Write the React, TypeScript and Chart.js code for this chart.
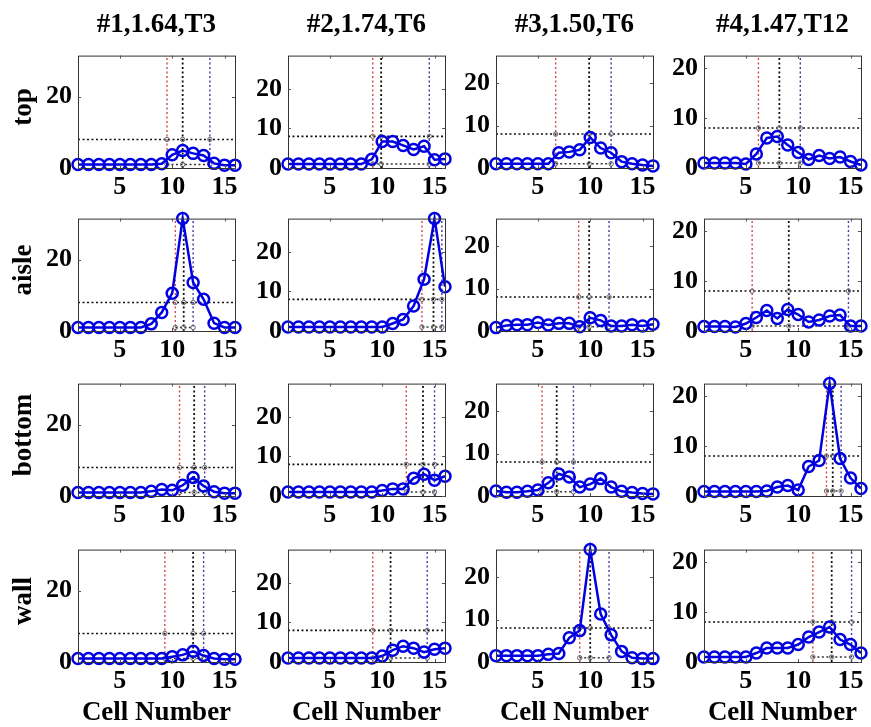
import React, { useEffect, useRef } from "react";
import { Chart, registerables } from "chart.js";
Chart.register(...registerables);

// ---------- data ----------
const cells = [1, 2, 3, 4, 5, 6, 7, 8, 9, 10, 11, 12, 13, 14, 15, 16];
const rowNames = ["top", "aisle", "bottom", "wall"];
const colTitles = ["#1,1.64,T3", "#2,1.74,T6", "#3,1.50,T6", "#4,1.47,T12"];
const colYMax = [31.5, 28.4, 26.5, 22.5];
const colYTicks = [[0, 20], [0, 10, 20], [0, 10, 20], [0, 10, 20]];
const xTicks = [5, 10, 15];
const xLabel = "Cell Number";
const thresholdLevel = 8;
const baseLevel = 1;

const top1 = [1, 1, 1, 1, 1, 1, 1, 1, 1.2, 3.7, 4.9, 4.1, 3.5, 1.3, 0.8, 0.8];
const top2 = [1, 1, 1, 1, 1, 1, 1, 1, 2.2, 6.7, 6.7, 5.7, 4.7, 5.5, 2.1, 2.3];
const top3 = [1, 1, 1, 1, 1, 1, 3.6, 3.8, 4.3, 7.2, 4.7, 3.6, 1.5, 1, 0.7, 0.5];
const top4 = [1, 1, 1, 1, 0.8, 2.8, 6, 6.3, 4.6, 3.1, 1.7, 2.5, 1.9, 2.2, 1.3, 0.6];

const aisle1 = [1, 1, 1, 1, 1, 1, 1, 2, 5.2, 10.6, 31.5, 13.6, 8.9, 2.2, 1, 1];
const aisle2 = [1, 1, 1, 1, 1, 1, 1, 1, 1, 1, 1.9, 2.9, 6.3, 13.1, 28.4, 11.2];
const aisle3 = [0.8, 1.3, 1.5, 1.5, 2, 1.4, 1.8, 1.8, 1, 3.1, 2.5, 1.2, 1.2, 1.5, 1.2, 1.6];
const aisle4 = [0.9, 0.9, 0.9, 0.8, 1.5, 2.7, 4.1, 2.5, 4.3, 3.3, 1.8, 2.2, 3, 3.2, 1, 1];

const bottom1 = [1, 1, 1, 1, 1, 1, 1, 1.3, 1.8, 1.6, 3, 5.2, 2.8, 1.2, 0.8, 0.8];
const bottom2 = [1, 1, 1, 1, 1, 1, 1, 1, 1, 1.4, 1.8, 1.8, 4.5, 5.5, 4, 5];
const bottom3 = [1.2, 0.9, 0.9, 1.1, 1.4, 3.1, 5.2, 4.5, 2.1, 2.8, 4.1, 2.1, 1.1, 0.8, 0.6, 0.5];
const bottom4 = [0.9, 0.9, 0.9, 0.9, 0.9, 0.9, 1, 1.8, 2.1, 1.2, 5.9, 7.1, 22.5, 7.5, 3.6, 1.5];

const wall1 = [1, 1, 1, 1, 1, 1, 1, 1, 1, 1.5, 2, 3, 1.8, 1, 0.8, 0.8];
const wall2 = [1, 1, 1, 1, 1, 1, 1, 1, 1, 1.5, 3, 4, 3.5, 2.5, 3.2, 3.5];
const wall3 = [1.5, 1.5, 1.5, 1.5, 1.5, 1.8, 2, 5.7, 7.4, 26.5, 11.3, 6.4, 2.5, 1, 0.8, 0.8];
const wall4 = [1, 1, 1, 1, 1, 1.8, 2.8, 2.8, 2.8, 3.5, 5, 6, 7, 4.5, 3.5, 1.8];

// vertical marker positions [red, black, blue]
const topMarks = [[9.5, 11.0, 13.6], [9.1, 9.9, 14.5], [6.7, 9.9, 12.0], [6.2, 8.2, 10.2]];
const aisleMarks = [[10.3, 11.1, 12.0], [13.8, 14.9, 15.7], [8.9, 9.9, 11.8], [5.6, 9.1, 14.8]];
const bottomMarks = [[10.7, 12.1, 13.1], [12.3, 13.9, 15.0], [5.4, 6.8, 8.4], [12.7, 13.3, 14.1]];
const wallMarks = [[9.3, 12.0, 13.0], [9.1, 10.8, 14.3], [9.0, 10.0, 11.8], [11.4, 13.2, 15.1]];

const series = [
  [top1, top2, top3, top4],
  [aisle1, aisle2, aisle3, aisle4],
  [bottom1, bottom2, bottom3, bottom4],
  [wall1, wall2, wall3, wall4],
];
const marks = [topMarks, aisleMarks, bottomMarks, wallMarks];

// ---------- layout / style ----------
const PLOT_LEFT = [78, 288, 496, 704];
const PLOT_TOP = [46, 209, 374, 540];
const PW = 157;
const PH = 122;
const YW = 70;
const PADT = 12;
const PADR = 12;
const XH = 38;
const FONT = '"Liberation Serif", "Times New Roman", serif';
const BLUE = "#0000e0";
const MARK_COLORS = ["#d04848", "#111111", "#3a3aa8"];

const boxPlugin = {
  id: "matlabBox",
  afterDatasetsDraw(chart: any) {
    const { ctx, chartArea, scales } = chart;
    ctx.save();
    ctx.strokeStyle = "#333";
    ctx.lineWidth = 1;
    ctx.strokeRect(chartArea.left + 0.5, chartArea.top + 0.5, chartArea.right - chartArea.left, chartArea.bottom - chartArea.top);
    ctx.strokeStyle = "#555";
    const tl = 3;
    for (const t of scales.x.ticks) {
      const px = Math.round(scales.x.getPixelForValue(t.value)) + 0.5;
      ctx.beginPath();
      ctx.moveTo(px, chartArea.bottom);
      ctx.lineTo(px, chartArea.bottom - tl);
      ctx.moveTo(px, chartArea.top);
      ctx.lineTo(px, chartArea.top + tl);
      ctx.stroke();
    }
    for (const t of scales.y.ticks) {
      const py = Math.round(scales.y.getPixelForValue(t.value)) + 0.5;
      ctx.beginPath();
      ctx.moveTo(chartArea.left, py);
      ctx.lineTo(chartArea.left + tl, py);
      ctx.moveTo(chartArea.right, py);
      ctx.lineTo(chartArea.right - tl, py);
      ctx.stroke();
    }
    ctx.restore();
  },
};

function Panel({ r, c }: { r: number; c: number }) {
  const ref = useRef<HTMLCanvasElement | null>(null);
  useEffect(() => {
    const canvas = ref.current;
    if (!canvas) return;
    const values = series[r][c];
    const m = marks[r][c];
    const yMax = colYMax[c];
    const dotted = [2, 2.5];
    const datasets: any[] = [
      {
        data: values.map((v, i) => ({ x: cells[i], y: v })),
        borderColor: BLUE,
        borderWidth: 2.5,
        pointRadius: 5.5,
        pointBorderWidth: 2.5,
        pointBorderColor: BLUE,
        pointBackgroundColor: "rgba(0,0,0,0)",
        tension: 0,
        clip: false,
      },
      {
        data: m.flatMap((x) => [
          { x, y: thresholdLevel },
          { x, y: baseLevel },
        ]),
        showLine: false,
        pointRadius: 2.2,
        pointBorderWidth: 1,
        pointBorderColor: "#666",
        pointBackgroundColor: "rgba(0,0,0,0)",
      },
      {
        data: [
          { x: cells[0], y: thresholdLevel },
          { x: cells[cells.length - 1], y: thresholdLevel },
        ],
        borderColor: "#111",
        borderWidth: 1.6,
        borderDash: dotted,
        pointRadius: 0,
      },
      {
        data: [
          { x: m[0], y: baseLevel },
          { x: m[2], y: baseLevel },
        ],
        borderColor: "#333",
        borderWidth: 1.4,
        borderDash: dotted,
        pointRadius: 0,
      },
      ...m.map((x, k) => ({
        data: [
          { x, y: 0 },
          { x, y: yMax },
        ],
        borderColor: MARK_COLORS[k],
        borderWidth: k === 1 ? 1.8 : 1.4,
        borderDash: dotted,
        pointRadius: 0,
      })),
    ];
    const tickFont = { family: FONT, size: 26, weight: "bold" as const };
    const chart = new Chart(canvas, {
      type: "line",
      data: { datasets },
      plugins: [boxPlugin],
      options: {
        animation: false,
        responsive: false,
        maintainAspectRatio: false,
        devicePixelRatio: 1,
        layout: { padding: { top: PADT, right: PADR, left: 0, bottom: 0 } },
        plugins: { legend: { display: false }, tooltip: { enabled: false }, title: { display: false } },
        scales: {
          x: {
            type: "linear",
            min: cells[0],
            max: cells[cells.length - 1],
            afterBuildTicks: (s: any) => {
              s.ticks = xTicks.map((v) => ({ value: v }));
            },
            afterFit: (s: any) => {
              s.height = XH;
            },
            grid: { display: false, drawTicks: false },
            border: { display: false },
            ticks: { font: tickFont, color: "#000", padding: 4, maxRotation: 0, autoSkip: false },
          },
          y: {
            type: "linear",
            min: 0,
            max: yMax,
            afterBuildTicks: (s: any) => {
              s.ticks = colYTicks[c].map((v) => ({ value: v }));
            },
            afterFit: (s: any) => {
              s.width = YW;
            },
            grid: { display: false, drawTicks: false },
            border: { display: false },
            ticks: { font: tickFont, color: "#000", padding: 6, autoSkip: false },
          },
        },
      } as any,
    });
    return () => chart.destroy();
  }, [r, c]);
  return (
    <canvas
      ref={ref}
      width={YW + PW + PADR}
      height={PADT + PH + XH}
      style={{
        position: "absolute",
        left: PLOT_LEFT[c] - YW,
        top: PLOT_TOP[r] - PADT,
        width: YW + PW + PADR,
        height: PADT + PH + XH,
      }}
    />
  );
}

export default function App() {
  const textStyle: React.CSSProperties = {
    position: "absolute",
    fontFamily: FONT,
    fontWeight: "bold",
    color: "#000",
    whiteSpace: "nowrap",
    lineHeight: "30px",
  };
  const panels: JSX.Element[] = [];
  for (let r = 0; r < 4; r++) for (let c = 0; c < 4; c++) panels.push(<Panel key={`${r}-${c}`} r={r} c={c} />);
  return (
    <div style={{ position: "absolute", left: 0, top: 0, width: 871, height: 727, background: "#fff", overflow: "hidden" }}>
      {panels}
      {colTitles.map((t, c) => (
        <div key={"t" + c} style={{ ...textStyle, fontSize: 27, left: PLOT_LEFT[c] + PW / 2 - 100, width: 200, textAlign: "center", top: 8 }}>
          {t}
        </div>
      ))}
      {colTitles.map((_, c) => (
        <div key={"x" + c} style={{ ...textStyle, fontSize: 27, left: PLOT_LEFT[c] + PW / 2 - 100, width: 200, textAlign: "center", top: 696 }}>
          {xLabel}
        </div>
      ))}
      {rowNames.map((n, r) => (
        <div
          key={"r" + n}
          style={{
            ...textStyle,
            fontSize: 27,
            left: 22,
            top: PLOT_TOP[r] + PH / 2,
            transform: "translate(-50%, -50%) rotate(-90deg)",
          }}
        >
          {n}
        </div>
      ))}
    </div>
  );
}
